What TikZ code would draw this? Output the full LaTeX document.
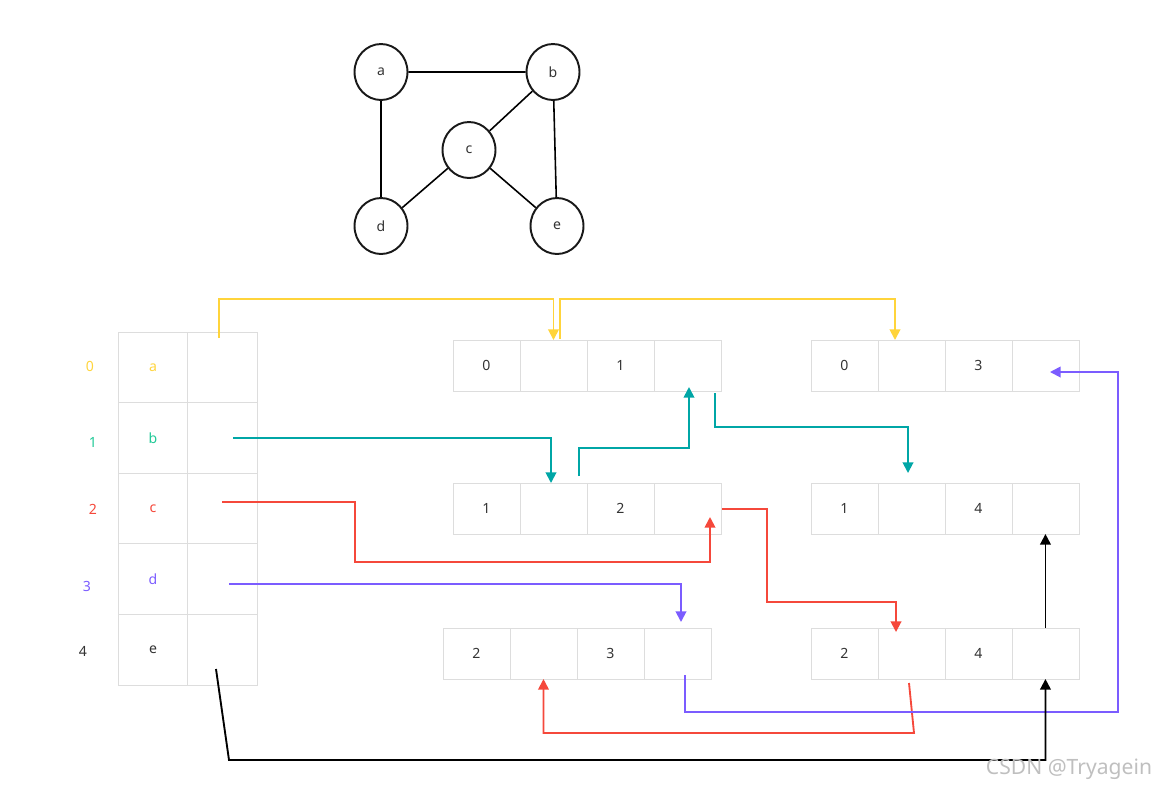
\documentclass[tikz,border=0pt]{standalone}
\usepackage{fontspec}
\setmainfont{Noto Sans}
\usetikzlibrary{arrows.meta,positioning,shapes.geometric}
\definecolor{cyel}{HTML}{FFD43B}
\definecolor{cteal}{HTML}{00A6A6}
\definecolor{cgrn}{HTML}{20C997}
\definecolor{cred}{HTML}{F5483B}
\definecolor{cpur}{HTML}{7B5CFF}
\definecolor{ctxt}{HTML}{333333}
\definecolor{cline}{HTML}{DDDDDD}

\begin{document}
\begin{tikzpicture}[x=0.02cm,y=-0.02cm,font=\fontsize{8}{9}\selectfont,
  vtx/.style={draw=black!90,line width=1.1pt,ellipse,minimum width=1.06cm,minimum height=1.12cm,inner sep=0pt,text=ctxt},
  tcell/.style={draw=cline,minimum width=1.39cm,minimum height=1.412cm,inner sep=0pt,outer sep=0pt},
  ecell/.style={draw=cline,minimum width=1.34cm,minimum height=1.02cm,inner sep=0pt,outer sep=0pt,text=ctxt},
  lnk/.style={line width=1.05pt,-{Triangle[length=6pt,width=6pt]}}]
  \useasboundingbox (0,0) rectangle (1156,789);
  % the graph
  \node[vtx] (ga) at (381,72) {a};
  \node[vtx] (gb) at (553,72) {b};
  \node[vtx] (gc) at (469,150) {c};
  \node[vtx] (gd) at (381,226) {d};
  \node[vtx] (ge) at (557,226) {e};
  \draw[line width=0.9pt] (ga) -- (gb) (ga) -- (gd) (gb) -- (gc)
    (gb) -- (ge) (gc) -- (gd) (gc) -- (ge);
  % vertex table
  \foreach \v/\c [count=\i from 0] in {a/cyel,b/cgrn,c/cred,d/cpur,e/ctxt}{
    \node[tcell,text=\c] (v\i) at (153,{367.3+70.6*\i}) {\v};
    \node[tcell,right=0pt of v\i] (p\i) {};
  }
  \foreach \k/\x/\y/\c in {0/90/366/cyel,1/93/442/cgrn,2/93/509/cred,3/87/586/cpur,4/83/651/ctxt}
    \node[text=\c] (i\k) at (\x,\y) {\k};
  % edge records
  \foreach \n/\x/\y/\p/\q in {1/453/340/0/1,2/811/340/0/3,3/453/483/1/2,
      4/811/483/1/4,5/443/628/2/3,6/811/628/2/4}{
    \node[ecell] (en\n-1) at ({\x+33.5},{\y+25.5}) {\p};
    \node[ecell,right=0pt of en\n-1] (en\n-2) {};
    \node[ecell,right=0pt of en\n-2] (en\n-3) {\q};
    \node[ecell,right=0pt of en\n-3] (en\n-4) {};
  }
  % free ends
  \coordinate (ya) at (219,338);
  \coordinate (yb) at (560,339);
  \coordinate (yt) at (895,340);
  \coordinate (ta) at (233,438);
  \coordinate (ts) at (551,483);
  \coordinate (tb) at (579,476);
  \coordinate (tt) at (689,387);
  \coordinate (tc) at (715,393);
  \coordinate (tu) at (908,473);
  \coordinate (ra) at (222,502);
  \coordinate (rt) at (710,517);
  \coordinate (rb) at (722,509);
  \coordinate (rs) at (896,632);
  \coordinate (rc) at (909,683);
  \coordinate (rd) at (914,733);
  \coordinate (pa) at (229,584);
  \coordinate (ps) at (681,622);
  \coordinate (pb) at (685,675);
  \coordinate (pt) at (1050,372);
  \coordinate (ka) at (216,669);
  \coordinate (kb) at (229,760);
  % adjacency pointers
  \draw[lnk,cyel] (ya) -- ++(0,-39) -| (en1-2.north);
  \draw[lnk,cyel] (yb) -- ++(0,-40) -| (yt);
  \draw[lnk,cteal] (ta) -| (ts);
  \draw[lnk,cteal] (tb) -- ++(0,-28) -| (tt);
  \draw[lnk,cteal] (tc) -- ++(0,34) -| (tu);
  \draw[lnk,cred] (ra) -- ++(133,0) -- ++(0,60) -| (rt);
  \draw[lnk,cred] (rb) -- ++(45,0) -- ++(0,93) -| (rs);
  \draw[lnk,cred] (rc) -- (rd) -| (en5-2.south);
  \draw[lnk,cpur] (pa) -| (ps);
  \draw[lnk,cpur] (pb) -- ++(0,37) -| ++(433,-340) -- (pt);
  \draw[lnk,black] (ka) -- (kb) -| (en6-4.south);
  \draw[lnk,black] (en6-4.north) -- (en4-4.south);
  \node[text=black!25,font=\fontsize{12}{13}\selectfont] (wm) at (1069,769) {CSDN @Tryagein};
\end{tikzpicture}
\end{document}
